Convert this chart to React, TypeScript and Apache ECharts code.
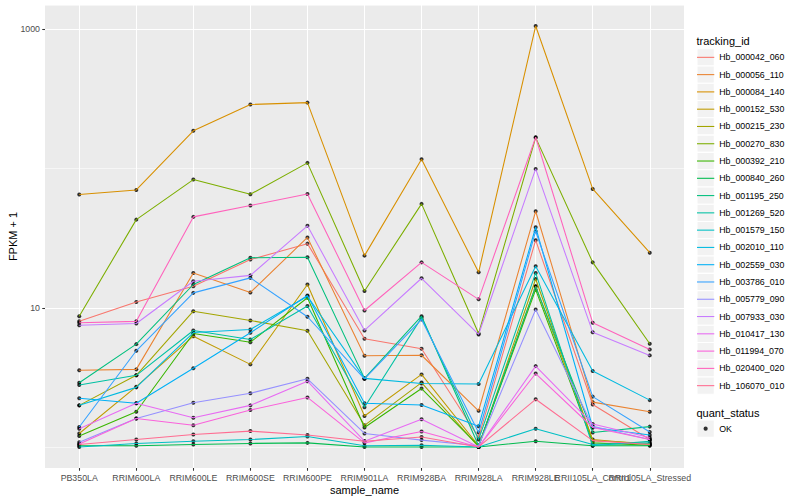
import React, { useEffect, useRef } from 'react';
import * as echarts from 'echarts';

// ---------- data ----------
const sampleNames = [
  'PB350LA', 'RRIM600LA', 'RRIM600LE', 'RRIM600SE', 'RRIM600PE', 'RRIM901LA',
  'RRIM928BA', 'RRIM928LA', 'RRIM928LE', 'RRII105LA_Control', 'RRII105LA_Stressed',
];

const trackingIds = [
  'Hb_000042_060', 'Hb_000056_110', 'Hb_000084_140', 'Hb_000152_530', 'Hb_000215_230',
  'Hb_000270_830', 'Hb_000392_210', 'Hb_000840_260', 'Hb_001195_250', 'Hb_001269_520',
  'Hb_001579_150', 'Hb_002010_110', 'Hb_002559_030', 'Hb_003786_010', 'Hb_005779_090',
  'Hb_007933_030', 'Hb_010417_130', 'Hb_011994_070', 'Hb_020400_020', 'Hb_106070_010',
];

const quantStatus = ['OK'];

// FPKM + 1 per sample, in sampleNames order
const hb_000042_060 = [8.0, 11.0, 14.3, 22.2, 28.9, 6.0, 5.08, 1.17, 30.6, 2.02, 1.13];
const hb_000056_110 = [3.56, 3.61, 17.8, 12.9, 32.0, 4.52, 4.56, 1.82, 49.4, 2.1, 1.79];
const hb_000084_140 = [65.1, 70.3, 187, 289, 298, 23.7, 116.6, 18.0, 1058, 71.5, 24.9];
const hb_000152_530 = [1.25, 2.71, 6.25, 3.92, 14.7, 1.67, 3.32, 1.02, 14.3, 1.13, 1.04];
const hb_000215_230 = [1.99, 3.27, 9.45, 8.11, 6.84, 1.43, 2.9, 1.0, 16.1, 1.11, 1.06];
const hb_000270_830 = [8.7, 43.0, 83.4, 65.4, 110, 13.2, 55.8, 6.54, 167, 21.2, 5.52];
const hb_000392_210 = [1.2, 1.79, 6.54, 5.66, 11.8, 1.38, 2.63, 1.02, 13.5, 1.07, 1.03];
const hb_000840_260 = [1.02, 1.02, 1.04, 1.06, 1.07, 1.0, 1.0, 1.0, 1.1, 1.02, 1.02];
const hb_001195_250 = [2.89, 5.48, 14.7, 22.9, 23.1, 3.11, 8.7, 1.02, 14.2, 1.27, 1.4];
const hb_001269_520 = [2.79, 3.27, 6.87, 5.92, 10.3, 1.93, 8.5, 1.13, 17.8, 1.02, 1.1];
const hb_001579_150 = [1.0, 1.06, 1.1, 1.13, 1.19, 1.02, 1.03, 1.0, 1.35, 1.04, 1.07];
const hb_002010_110 = [1.99, 2.68, 6.64, 6.99, 12.1, 3.11, 2.86, 2.83, 19.9, 3.51, 2.17];
const hb_002559_030 = [2.24, 2.06, 3.68, 6.61, 12.25, 2.06, 2.0, 1.41, 37.9, 1.38, 1.22];
const hb_003786_010 = [1.39, 4.91, 12.8, 16.4, 8.62, 3.08, 8.24, 1.27, 35.5, 2.3, 1.28];
const hb_005779_090 = [1.08, 1.6, 2.08, 2.43, 3.09, 1.25, 1.12, 1.02, 9.72, 1.41, 1.13];
const hb_007933_030 = [7.5, 7.71, 15.5, 17.1, 38.8, 6.87, 16.3, 6.43, 99.5, 6.68, 4.55];
const hb_010417_130 = [1.35, 2.06, 1.62, 1.99, 2.97, 1.1, 1.58, 1.0, 3.81, 1.46, 1.17];
const hb_011994_070 = [1.05, 1.6, 1.43, 1.84, 2.27, 1.07, 1.29, 1.0, 3.37, 1.38, 1.13];
const hb_020400_020 = [7.8, 7.99, 45.0, 54.3, 65.8, 9.56, 21.2, 11.5, 168, 7.8, 5.02];
const hb_106070_010 = [1.04, 1.13, 1.23, 1.3, 1.22, 1.1, 1.18, 1.0, 2.2, 1.11, 1.04];

const seriesValues = [
  hb_000042_060, hb_000056_110, hb_000084_140, hb_000152_530, hb_000215_230,
  hb_000270_830, hb_000392_210, hb_000840_260, hb_001195_250, hb_001269_520,
  hb_001579_150, hb_002010_110, hb_002559_030, hb_003786_010, hb_005779_090,
  hb_007933_030, hb_010417_130, hb_011994_070, hb_020400_020, hb_106070_010,
];

const yLabelValues = [10, 1000];

// ---------- styles ----------
const palette = [
  '#F8766D', '#EA8331', '#D89000', '#C09B00', '#A3A500', '#7CAE00', '#39B600', '#00BB4E',
  '#00BF7D', '#00C1A3', '#00BFC4', '#00BAE0', '#00B0F6', '#35A2FF', '#9590FF', '#C77CFF',
  '#E76BF3', '#FA62DB', '#FF62BC', '#FF6C91',
];
const FONT = '"Liberation Sans", Arial, Helvetica, sans-serif';
const LINE_ICON = 'path://M0,0L0,0M10,10L10,10M0,4.69L10,4.69L10,5.31L0,5.31Z';
const DOT_ICON = 'path://M0,0L0,0M10,10L10,10M3.8,5A1.2,1.2,0,1,0,6.2,5A1.2,1.2,0,1,0,3.8,5Z';

export default function App() {
  const ref = useRef<HTMLDivElement>(null);

  useEffect(() => {
    document.body.style.margin = '0';
    const chart = echarts.init(ref.current as HTMLDivElement, null, { renderer: 'svg' });

    const all = seriesValues.flat();
    const lo = Math.log10(Math.min(...all));
    const hi = Math.log10(Math.max(...all));
    const pad = (hi - lo) * 0.05;
    const yMin = Math.pow(10, lo - pad);
    const yMax = Math.pow(10, hi + pad);

    const panel = { left: 45, right: 116, top: 5, bottom: 32 };
    const panelW = 800 - panel.left - panel.right;
    const step = panelW / (sampleNames.length - 1 + 1.2);
    const dataLeft = panel.left + 0.6 * step;
    const dataRight = panel.right + 0.6 * step;

    const keySize = 17.28;
    const legendLeft = 697;
    const legendTop = 48.7;
    const okTop = 420;

    // the two last sample labels overlap in the reference; draw the second-last
    // one on its own axis so that both stay visible
    const splitIdx = sampleNames.length - 2;

    const yFormatter = (v: number) => {
      const l = Math.log10(v);
      for (const t of yLabelValues) {
        if (Math.abs(l - Math.log10(t)) < 1e-3) return String(t);
      }
      return '';
    };

    const keyStyle = { fill: '#F2F2F2', stroke: '#FFFFFF', lineWidth: 1.07 };
    const keyRects: any[] = trackingIds.map((_, i) => ({
      type: 'rect',
      silent: true,
      z: 1,
      shape: { x: legendLeft, y: legendTop + i * keySize, width: keySize, height: keySize },
      style: keyStyle,
    }));
    keyRects.push({
      type: 'rect',
      silent: true,
      z: 1,
      shape: { x: legendLeft, y: okTop, width: keySize, height: keySize },
      style: keyStyle,
    });

    const lineSeries = trackingIds.map((id, k) => ({
      type: 'line',
      name: id,
      xAxisIndex: 1,
      yAxisIndex: 2,
      data: seriesValues[k].map((v, i) => [i, v]),
      showSymbol: false,
      symbol: 'none',
      silent: true,
      lineStyle: { width: 1.07, color: palette[k] },
      itemStyle: { color: palette[k] },
    }));

    const points: number[][] = [];
    seriesValues.forEach((vals) => vals.forEach((v, i) => points.push([i, v])));

    const xLabelBase = {
      show: true,
      fontSize: 8.8,
      color: '#4D4D4D',
      margin: 5,
      fontFamily: FONT,
      hideOverlap: false,
    };

    chart.setOption({
      animation: false,
      textStyle: { fontFamily: FONT },
      grid: [
        {
          left: panel.left, right: panel.right, top: panel.top, bottom: panel.bottom,
          show: true, backgroundColor: '#EBEBEB', borderWidth: 0, outerBoundsMode: 'none',
        },
        {
          left: dataLeft, right: dataRight, top: panel.top, bottom: panel.bottom,
          outerBoundsMode: 'none',
        },
      ],
      xAxis: [
        { gridIndex: 0, type: 'value', min: 0, max: 1, show: false },
        {
          gridIndex: 1,
          type: 'value',
          position: 'bottom',
          min: 0,
          max: sampleNames.length - 1,
          interval: 1,
          axisLine: { show: false },
          axisTick: { show: true, length: 2.75, lineStyle: { color: '#333333', width: 1.07 } },
          axisLabel: {
            ...xLabelBase,
            formatter: (v: number) => {
              const i = Math.round(v);
              return i === splitIdx ? '' : sampleNames[i] ?? '';
            },
          },
          splitLine: { show: true, lineStyle: { color: '#FFFFFF', width: 1.07 } },
          name: 'sample_name',
          nameLocation: 'middle',
          nameGap: 16,
          nameMoveOverlap: false,
          nameTextStyle: { fontSize: 11, color: '#000000', fontFamily: FONT },
        },
        {
          gridIndex: 1,
          type: 'value',
          position: 'bottom',
          offset: 0,
          min: 0,
          max: sampleNames.length - 1,
          interval: 1,
          axisLine: { show: false },
          axisTick: { show: false },
          splitLine: { show: false },
          axisLabel: {
            ...xLabelBase,
            formatter: (v: number) => {
              const i = Math.round(v);
              return i === splitIdx ? sampleNames[i] : '';
            },
          },
        },
      ],
      yAxis: [
        {
          gridIndex: 0,
          type: 'log',
          logBase: 10,
          min: yMin,
          max: yMax,
          axisLine: { show: false },
          axisTick: {
            show: true, length: 2.75, customValues: yLabelValues,
            lineStyle: { color: '#333333', width: 1.07 },
          },
          axisLabel: {
            show: true, customValues: yLabelValues, formatter: yFormatter,
            fontSize: 8.8, color: '#4D4D4D', margin: 5, fontFamily: FONT,
          },
          splitLine: { show: true, lineStyle: { color: '#FFFFFF', width: 1.07 } },
          name: 'FPKM + 1',
          nameLocation: 'middle',
          nameRotate: 90,
          nameGap: 27,
          nameMoveOverlap: false,
          nameTextStyle: { fontSize: 11, color: '#000000', fontFamily: FONT },
        },
        {
          gridIndex: 0,
          type: 'log',
          logBase: 10,
          min: yMin,
          max: yMax,
          position: 'right',
          axisLine: { show: false },
          axisTick: { show: false },
          axisLabel: { show: false },
          splitLine: { show: true, lineStyle: { color: '#FFFFFF', width: 0.55 } },
        },
        {
          gridIndex: 1,
          type: 'log',
          logBase: 10,
          min: yMin,
          max: yMax,
          show: false,
        },
      ],
      legend: [
        {
          data: trackingIds,
          orient: 'vertical',
          left: legendLeft,
          top: legendTop,
          padding: 0,
          itemGap: 0,
          itemWidth: keySize,
          itemHeight: keySize,
          icon: LINE_ICON,
          selectedMode: false,
          itemStyle: { borderWidth: 0 },
          textStyle: { fontSize: 8.8, color: '#000000', fontFamily: FONT },
        },
        {
          data: quantStatus,
          orient: 'vertical',
          left: legendLeft,
          top: okTop,
          padding: 0,
          itemGap: 0,
          itemWidth: keySize,
          itemHeight: keySize,
          icon: DOT_ICON,
          selectedMode: false,
          itemStyle: { borderWidth: 0, color: '#000000' },
          textStyle: { fontSize: 8.8, color: '#000000', fontFamily: FONT },
        },
      ],
      graphic: [
        ...keyRects,
        {
          type: 'text',
          silent: true,
          z: 1,
          x: 696.5,
          y: 40.7,
          style: { text: 'tracking_id', fontSize: 11, fill: '#000000', fontFamily: FONT, align: 'left', verticalAlign: 'middle' },
        },
        {
          type: 'text',
          silent: true,
          z: 1,
          x: 696.5,
          y: 412.7,
          style: { text: 'quant_status', fontSize: 11, fill: '#000000', fontFamily: FONT, align: 'left', verticalAlign: 'middle' },
        },
      ],
      series: [
        ...lineSeries,
        {
          type: 'scatter',
          name: quantStatus[0],
          xAxisIndex: 1,
          yAxisIndex: 2,
          data: points,
          symbol: 'circle',
          symbolSize: 4,
          silent: true,
          itemStyle: { color: '#000000' },
        },
      ],
    });

    return () => chart.dispose();
  }, []);

  return <div ref={ref} style={{ width: 800, height: 500 }} />;
}
